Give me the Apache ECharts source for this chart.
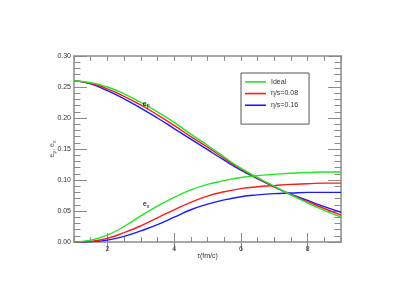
<!DOCTYPE html>
<html><head><meta charset="utf-8">
<script src="https://cdn.jsdelivr.net/npm/echarts@6/dist/echarts.min.js"></script>
<style>html,body{margin:0;padding:0;background:#fff}#c{width:415px;height:297px}</style>
</head><body><div id="c"></div>
<script>
var tau = [1, 1.5, 2, 2.5, 3, 3.5, 4, 4.5, 5, 5.5, 6, 6.5, 7, 7.5, 8, 8.5, 9];
var epIdeal = [0.260, 0.257, 0.250, 0.239, 0.225, 0.210, 0.193, 0.174, 0.156, 0.137, 0.119, 0.104, 0.090, 0.076, 0.063, 0.051, 0.040];
var ep008   = [0.260, 0.256, 0.247, 0.235, 0.221, 0.205, 0.188, 0.170, 0.153, 0.135, 0.118, 0.103, 0.089, 0.076, 0.065, 0.054, 0.0435];
var ep016   = [0.260, 0.255, 0.244, 0.231, 0.216, 0.200, 0.183, 0.166, 0.149, 0.132, 0.116, 0.102, 0.089, 0.077, 0.067, 0.057, 0.048];
var exIdeal = [0.000, 0.003, 0.011, 0.025, 0.042, 0.058, 0.072, 0.084, 0.093, 0.099, 0.104, 0.107, 0.109, 0.111, 0.112, 0.113, 0.113];
var ex008   = [0.000, 0.001, 0.006, 0.015, 0.026, 0.039, 0.052, 0.064, 0.074, 0.081, 0.086, 0.089, 0.091, 0.093, 0.094, 0.095, 0.095];
var ex016   = [0.000, 0.0005, 0.003, 0.009, 0.018, 0.028, 0.040, 0.052, 0.061, 0.068, 0.073, 0.076, 0.078, 0.079, 0.080, 0.080, 0.080];
var legendNames = ['Ideal', 'η/s=0.08', 'η/s=0.16'];
var colors = ['#22e622', '#ff1a1a', '#1a1aff'];
var xMajorTicks = [2, 4, 6, 8];
var annotations = [{text: '{e|e}{s|p}', pos: [3.16, 0.2226]}, {text: '{e|e}{s|x}', pos: [3.16, 0.061]}];

function pairs(ys){ return tau.map(function(t,i){ return [t, ys[i]]; }); }
var axisGray = '#8a8a8a';
var fontFam = 'Liberation Sans, Arial, sans-serif';

function xAx(pos, opts){
  var base = {
    type: 'value', position: pos, min: 1, max: 9, interval: 0.5,
    axisLine: {show: true, onZero: false, lineStyle: {color: axisGray, width: 1.5}},
    axisTick: {show: true, inside: true, length: 5, lineStyle: {color: axisGray, width: 1}},
    axisLabel: {show: false}, splitLine: {show: false}
  };
  return Object.assign(base, opts || {});
}
function yAx(pos, opts){
  var base = {
    type: 'value', position: pos, min: 0, max: 0.3, interval: 0.05,
    axisLine: {show: true, onZero: false, lineStyle: {color: axisGray, width: 1.5}},
    axisTick: {show: true, inside: true, length: 13, lineStyle: {color: axisGray, width: 1}},
    minorTick: {show: true, splitNumber: 5, length: 6.5, lineStyle: {color: axisGray, width: 1}},
    axisLabel: {show: false}, splitLine: {show: false}, minorSplitLine: {show: false}
  };
  return Object.assign(base, opts || {});
}

var chart = echarts.init(document.getElementById('c'), null, {renderer: 'canvas'});
var series = [];
var epAll = [epIdeal, ep008, ep016], exAll = [exIdeal, ex008, ex016];
for (var k = 0; k < 3; k++) {
  series.push({name: legendNames[k], type: 'line', smooth: true, showSymbol: false, data: pairs(epAll[k]), lineStyle: {color: colors[k], width: 1.4}, itemStyle: {color: colors[k]}, z: 3 - k});
  series.push({name: legendNames[k], type: 'line', smooth: true, showSymbol: false, data: pairs(exAll[k]), lineStyle: {color: colors[k], width: 1.4}, itemStyle: {color: colors[k]}, z: 3 - k});
}
var richSub = {e: {fontSize: 7, color: '#555', fontFamily: fontFam}, s: {fontSize: 5, color: '#555', fontFamily: fontFam, verticalAlign: 'bottom', padding: [4, 0, 0, 0]}};

chart.setOption({
  animation: false,
  backgroundColor: '#fff',
  grid: {left: 74, right: 74, top: 56, bottom: 55, containLabel: false},
  xAxis: [
    xAx('bottom', {
      axisLabel: {show: true, margin: 4, fontSize: 7, color: '#333', fontFamily: fontFam,
        formatter: function(v){ return (Math.abs(v % 2) < 1e-9) ? String(v) : ''; }},
      name: 'τ(fm/c)', nameLocation: 'middle', nameGap: 11, nameMoveOverlap: false,
      nameTextStyle: {fontSize: 7, color: '#333', fontFamily: fontFam}
    }),
    xAx('bottom', {axisLine: {show: false}, axisTick: {show: true, inside: true, length: 9, customValues: xMajorTicks, lineStyle: {color: axisGray, width: 1}}}),
    xAx('top'),
    xAx('top', {axisLine: {show: false}, axisTick: {show: true, inside: true, length: 9, customValues: xMajorTicks, lineStyle: {color: axisGray, width: 1}}})
  ],
  yAxis: [
    yAx('left', {
      axisLabel: {show: true, margin: 3, fontSize: 7, color: '#333', fontFamily: fontFam,
        formatter: function(v){ return v.toFixed(2); }},
      name: '{e|e}{s|p}{e|, e}{s|x}', nameLocation: 'middle', nameGap: 17, nameRotate: 90, nameMoveOverlap: false,
      nameTextStyle: {rich: richSub}
    }),
    yAx('right')
  ],
  legend: {
    show: true, orient: 'vertical', left: 241, top: 73,
    data: legendNames, icon: 'rect', itemWidth: 21, itemHeight: 1.6,
    padding: [4, 11, 14, 4], itemGap: 2,
    borderColor: '#555', borderWidth: 1, borderRadius: 0,
    textStyle: {fontSize: 7, color: '#333', fontFamily: fontFam, lineHeight: 9.7}
  },
  series: series
});
var gfx = annotations.map(function(a){
  var p = chart.convertToPixel({xAxisIndex: 0, yAxisIndex: 0}, a.pos);
  return {type: 'text', x: p[0], y: p[1], z: 100,
    style: {text: a.text, rich: richSub, align: 'center', verticalAlign: 'middle'}};
});
chart.setOption({graphic: gfx});
</script></body></html>
